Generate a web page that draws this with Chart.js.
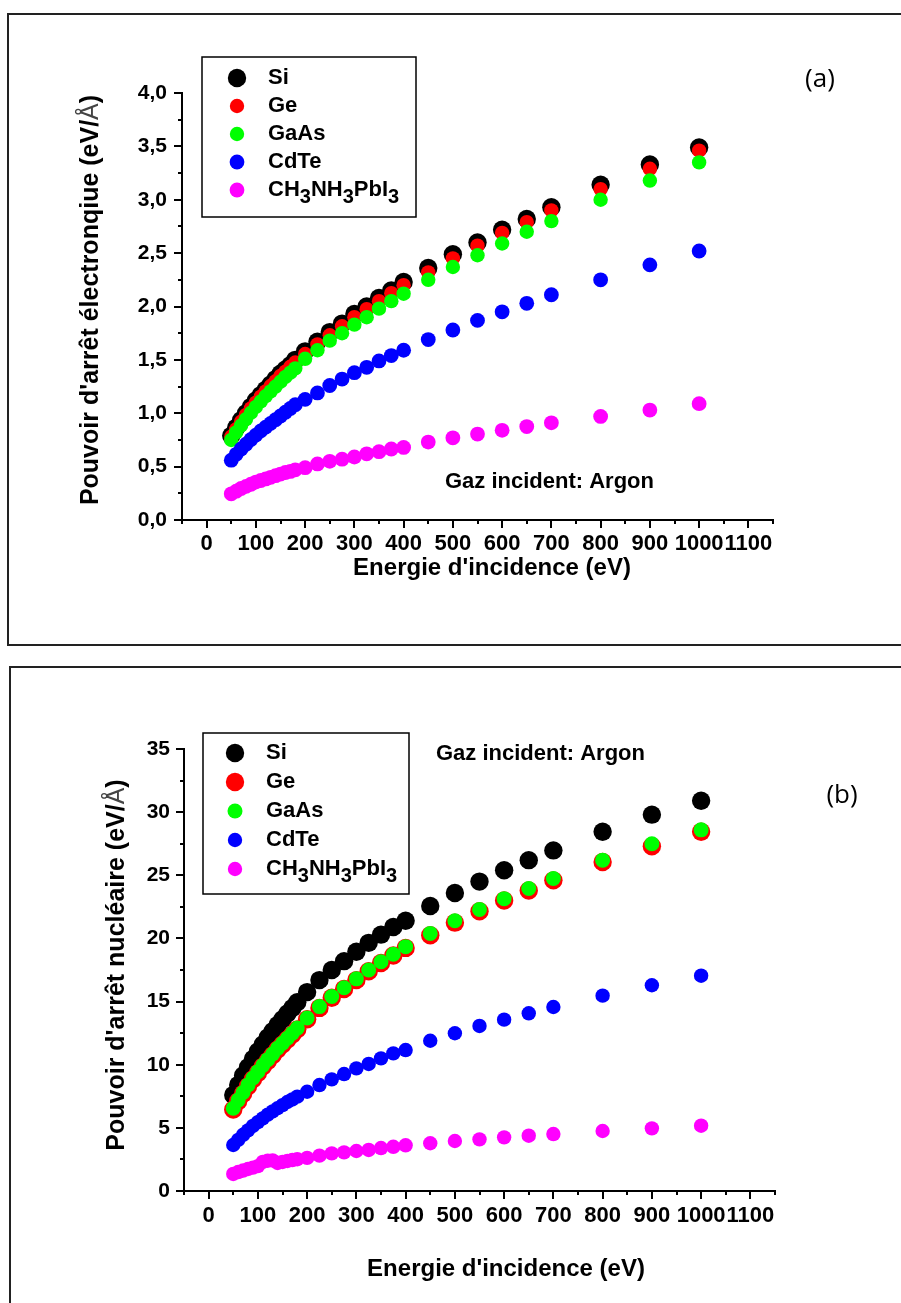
<!DOCTYPE html>
<html>
<head>
<meta charset="utf-8">
<script src="https://cdn.jsdelivr.net/npm/chart.js@4.4.1/dist/chart.umd.min.js"></script>
<style>
  html, body { margin: 0; padding: 0; background: #fff; }
  body { width: 901px; height: 1303px; position: relative; overflow: hidden; }
  .frame { position: absolute; border: 2px solid #222; box-sizing: border-box; }
  #frameA { left: 7px; top: 13px; width: 930px; height: 633px; }
  #frameB { left: 9px; top: 666px; width: 930px; height: 700px; }
  canvas { position: absolute; left: 0; }
  #chartA { top: 0; }
  #chartB { top: 655px; }
</style>
</head>
<body>
<div class="frame" id="frameA"></div>
<div class="frame" id="frameB"></div>
<canvas id="chartA" width="901" height="655"></canvas>
<canvas id="chartB" width="901" height="648"></canvas>
<script>
// Incident energies (eV), shared by both panels
const energies = [50, 60, 70, 80, 90, 100, 110, 120, 130, 140, 150, 160, 170, 180,
  200, 225, 250, 275, 300, 325, 350, 375, 400,
  450, 500, 550, 600, 650, 700, 800, 900, 1000];

const materials = ['Si', 'Ge', 'GaAs', 'CdTe', 'CH3NH3PbI3'];
const colors = ['#000000', '#ff0000', '#00ff00', '#0000ff', '#ff00ff'];

// (a) electronic stopping power (eV/Å)
const siElec = [0.79, 0.865, 0.935, 1.00, 1.06, 1.12, 1.17, 1.22, 1.27, 1.32, 1.37, 1.41, 1.45, 1.50,
  1.58, 1.67, 1.76, 1.84, 1.93, 2.00, 2.08, 2.15, 2.23,
  2.36, 2.49, 2.60, 2.72, 2.82, 2.93, 3.14, 3.33, 3.49];
const geElec = [0.78, 0.85, 0.92, 0.985, 1.045, 1.10, 1.155, 1.205, 1.255, 1.30, 1.35, 1.39, 1.435, 1.475,
  1.555, 1.645, 1.73, 1.815, 1.90, 1.975, 2.05, 2.125, 2.20,
  2.32, 2.45, 2.57, 2.69, 2.79, 2.90, 3.10, 3.29, 3.46];
const gaasElec = [0.75, 0.82, 0.885, 0.945, 1.005, 1.06, 1.11, 1.16, 1.205, 1.25, 1.295, 1.34, 1.38, 1.42,
  1.51, 1.59, 1.68, 1.75, 1.83, 1.90, 1.98, 2.05, 2.12,
  2.25, 2.37, 2.48, 2.59, 2.70, 2.80, 3.00, 3.18, 3.35];
const cdteElec = [0.56, 0.615, 0.665, 0.71, 0.755, 0.795, 0.835, 0.87, 0.905, 0.94, 0.975, 1.01, 1.045, 1.08,
  1.13, 1.19, 1.26, 1.32, 1.38, 1.43, 1.49, 1.54, 1.59,
  1.69, 1.78, 1.87, 1.95, 2.03, 2.11, 2.25, 2.39, 2.52];
const mapiElec = [0.245, 0.27, 0.295, 0.315, 0.335, 0.355, 0.37, 0.385, 0.40, 0.415, 0.43, 0.445, 0.455, 0.47,
  0.49, 0.525, 0.55, 0.57, 0.59, 0.62, 0.64, 0.665, 0.68,
  0.73, 0.77, 0.805, 0.84, 0.875, 0.91, 0.97, 1.03, 1.09];

// (b) nuclear stopping power (eV/Å)
const siNuc = [7.6, 8.4, 9.15, 9.8, 10.45, 11.05, 11.6, 12.15, 12.65, 13.15, 13.6, 14.05, 14.5, 14.95,
  15.75, 16.7, 17.5, 18.2, 18.95, 19.65, 20.3, 20.9, 21.4,
  22.57, 23.6, 24.5, 25.4, 26.2, 26.97, 28.45, 29.8, 30.9];
const geNuc = [6.45, 7.1, 7.7, 8.3, 8.85, 9.35, 9.85, 10.3, 10.75, 11.2, 11.6, 12.0, 12.4, 12.8,
  13.6, 14.5, 15.3, 16.0, 16.7, 17.4, 18.05, 18.65, 19.25,
  20.25, 21.25, 22.15, 23.0, 23.8, 24.6, 26.05, 27.3, 28.45];
const gaasNuc = [6.55, 7.2, 7.8, 8.4, 8.95, 9.45, 9.95, 10.4, 10.85, 11.3, 11.7, 12.1, 12.5, 12.9,
  13.7, 14.6, 15.4, 16.1, 16.8, 17.5, 18.15, 18.75, 19.35,
  20.4, 21.4, 22.3, 23.15, 23.95, 24.75, 26.2, 27.5, 28.6];
const cdteNuc = [3.64, 4.05, 4.45, 4.8, 5.15, 5.45, 5.75, 6.05, 6.3, 6.55, 6.8, 7.05, 7.25, 7.47,
  7.86, 8.39, 8.84, 9.26, 9.71, 10.06, 10.5, 10.9, 11.16,
  11.9, 12.49, 13.07, 13.57, 14.07, 14.57, 15.47, 16.29, 17.05];
const mapiNuc = [1.35, 1.5, 1.62, 1.74, 1.85, 1.97, 2.3, 2.4, 2.42, 2.22, 2.3, 2.38, 2.45, 2.52,
  2.62, 2.8, 2.98, 3.06, 3.17, 3.25, 3.4, 3.5, 3.62,
  3.78, 3.96, 4.09, 4.25, 4.38, 4.51, 4.75, 4.96, 5.17];

// Axis tick values
const xMajor = [0, 100, 200, 300, 400, 500, 600, 700, 800, 900, 1000, 1100];
const xMinor = [-50, 50, 150, 250, 350, 450, 550, 650, 750, 850, 950, 1050, 1150];
const yMajorA = [0, 0.5, 1.0, 1.5, 2.0, 2.5, 3.0, 3.5, 4.0];
const yMinorA = [0.25, 0.75, 1.25, 1.75, 2.25, 2.75, 3.25, 3.75];
const yMajorB = [0, 5, 10, 15, 20, 25, 30, 35];
const yMinorB = [2.5, 7.5, 12.5, 17.5, 22.5, 27.5, 32.5];

const FAMILY = '"Liberation Sans", Arial, sans-serif';
const bold = (s) => 'bold ' + s + 'px ' + FAMILY;

// Draw a row of text runs (font / vertical offset per run)
function runsWidth(ctx, runs) {
  let w = 0;
  for (const r of runs) { ctx.font = r.font; w += ctx.measureText(r.t).width; }
  return w;
}
function drawRuns(ctx, x, y, runs, align) {
  const w = runsWidth(ctx, runs);
  let cx = align === 'center' ? x - w / 2 : x;
  ctx.textBaseline = 'middle';
  ctx.textAlign = 'left';
  for (const r of runs) {
    ctx.font = r.font;
    ctx.fillStyle = r.color || '#000';
    ctx.fillText(r.t, cx, y + (r.dy || 0));
    cx += ctx.measureText(r.t).width;
  }
}
// Chemical formula: digits become subscripts
function formulaRuns(name, size) {
  const runs = [];
  const parts = name.match(/[A-Za-z]+|\d+/g);
  for (const p of parts) {
    if (/^\d+$/.test(p)) runs.push({ t: p, font: bold(size - 2), dy: 7 });
    else runs.push({ t: p, font: bold(size) });
  }
  return runs;
}

function unitRuns(prefix, size) {
  return [
    { t: prefix + ' (eV/', font: bold(size) },
    { t: 'Å', font: size + 'px ' + FAMILY, color: '#444' },
    { t: ')', font: bold(size) }
  ];
}

// Axis ticks (major and minor), titles, legend and annotations
const decorPlugin = {
  id: 'decor',
  afterDraw(chart, args, opts) {
    const ctx = chart.ctx;
    const xs = chart.scales.x, ys = chart.scales.y;
    ctx.save();
    ctx.strokeStyle = '#000';
    ctx.lineWidth = 2;
    ctx.beginPath();
    for (const v of xMajor) { const p = Math.round(xs.getPixelForValue(v)); ctx.moveTo(p, xs.top); ctx.lineTo(p, xs.top + 8); }
    for (const v of xMinor) { const p = Math.round(xs.getPixelForValue(v)); ctx.moveTo(p, xs.top); ctx.lineTo(p, xs.top + 4); }
    for (const v of opts.yMajor) { const p = Math.round(ys.getPixelForValue(v)); ctx.moveTo(ys.right, p); ctx.lineTo(ys.right - 8, p); }
    for (const v of opts.yMinor) { const p = Math.round(ys.getPixelForValue(v)); ctx.moveTo(ys.right, p); ctx.lineTo(ys.right - 4, p); }
    ctx.stroke();

    // axis titles
    drawRuns(ctx, opts.xTitle.x, opts.xTitle.y, [{ t: "Energie d'incidence (eV)", font: bold(24) }], 'center');
    ctx.save();
    ctx.translate(opts.yTitle.x, opts.yTitle.y);
    ctx.rotate(-Math.PI / 2);
    drawRuns(ctx, 0, 0, unitRuns(opts.yTitle.text, 25), 'center');
    ctx.restore();

    // legend
    const L = opts.legend;
    ctx.lineWidth = 1.5;
    ctx.strokeStyle = '#000';
    ctx.strokeRect(L.x0, L.y0, L.x1 - L.x0, L.y1 - L.y0);
    materials.forEach((m, i) => {
      const y = L.rowY + i * L.rowStep;
      ctx.beginPath();
      ctx.fillStyle = colors[i];
      ctx.arc(L.markerX, y, opts.radii[i], 0, Math.PI * 2);
      ctx.fill();
      drawRuns(ctx, L.textX, y, formulaRuns(m, 22), 'left');
    });

    // annotations
    drawRuns(ctx, opts.note.x, opts.note.y, [{ t: 'Gaz incident: Argon', font: bold(22) }], 'left');
    drawRuns(ctx, opts.tag.x, opts.tag.y, [{ t: opts.tag.text, font: '26px "Open Sans", ' + FAMILY }], 'center');
    ctx.restore();
  }
};

function makeChart(id, series, radii, yMin, yMax, yMajor, yMinor, yFmt, geom, decor) {
  const datasets = series.map((vals, i) => ({
    label: materials[i],
    data: energies.map((e, k) => ({ x: e, y: vals[k] })),
    backgroundColor: colors[i],
    borderWidth: 0,
    pointRadius: radii[i],
    pointHoverRadius: radii[i],
    showLine: false,
    order: materials.length - i
  }));
  const tickFont = (s) => ({ family: FAMILY, size: s, weight: 'bold' });
  return new Chart(document.getElementById(id), {
    type: 'scatter',
    data: { datasets },
    plugins: [decorPlugin],
    options: {
      responsive: false,
      animation: false,
      events: [],
      layout: { padding: { top: geom.top, right: geom.right, left: 0, bottom: 0 } },
      plugins: {
        legend: { display: false },
        tooltip: { enabled: false },
        decor: Object.assign({ yMajor, yMinor, radii }, decor)
      },
      scales: {
        x: {
          type: 'linear', min: -50, max: 1150,
          afterBuildTicks: (s) => { s.ticks = xMajor.map(v => ({ value: v })); },
          afterFit: (s) => { s.height = geom.xHeight; },
          grid: { display: false, drawTicks: false },
          border: { display: true, color: '#000', width: 2 },
          ticks: { font: tickFont(22), color: '#000', padding: geom.xPad, autoSkip: false,
                   maxRotation: 0, minRotation: 0, callback: (v) => String(v) }
        },
        y: {
          type: 'linear', min: yMin, max: yMax,
          afterBuildTicks: (s) => { s.ticks = yMajor.map(v => ({ value: v })); },
          afterFit: (s) => { s.width = geom.yWidth; },
          grid: { display: false, drawTicks: false },
          border: { display: true, color: '#000', width: 2 },
          ticks: { font: tickFont(21), color: '#000', padding: geom.yPad, autoSkip: false,
                   callback: yFmt }
        }
      }
    }
  });
}

makeChart('chartA',
  [siElec, geElec, gaasElec, cdteElec, mapiElec],
  [9.2, 7.2, 7.2, 7.4, 7.4],
  0, 4.0, yMajorA, yMinorA,
  (v) => v.toFixed(1).replace('.', ','),
  { top: 93, right: 128, yWidth: 182, xHeight: 135, xPad: 11, yPad: 15 },
  {
    xTitle: { x: 492, y: 568 },
    yTitle: { x: 91, y: 300, text: "Pouvoir d'arrêt électronqiue" },
    legend: { x0: 202, y0: 57, x1: 416, y1: 217, markerX: 237, textX: 268, rowY: 78, rowStep: 28 },
    note: { x: 445, y: 482 },
    tag: { x: 820, y: 80, text: '(a)' }
  });

makeChart('chartB',
  [siNuc, geNuc, gaasNuc, cdteNuc, mapiNuc],
  [9.2, 9.2, 7.5, 7.2, 7.2],
  0, 35, yMajorB, yMinorB,
  (v) => String(v),
  { top: 94, right: 126, yWidth: 184, xHeight: 112, xPad: 12, yPad: 14 },
  {
    xTitle: { x: 506, y: 614 },
    yTitle: { x: 117, y: 310, text: "Pouvoir d'arrêt nucléaire" },
    legend: { x0: 203, y0: 78, x1: 409, y1: 239, markerX: 235, textX: 266, rowY: 98, rowStep: 29 },
    note: { x: 436, y: 99 },
    tag: { x: 842, y: 141, text: '(b)' }
  });
</script>
</body>
</html>
